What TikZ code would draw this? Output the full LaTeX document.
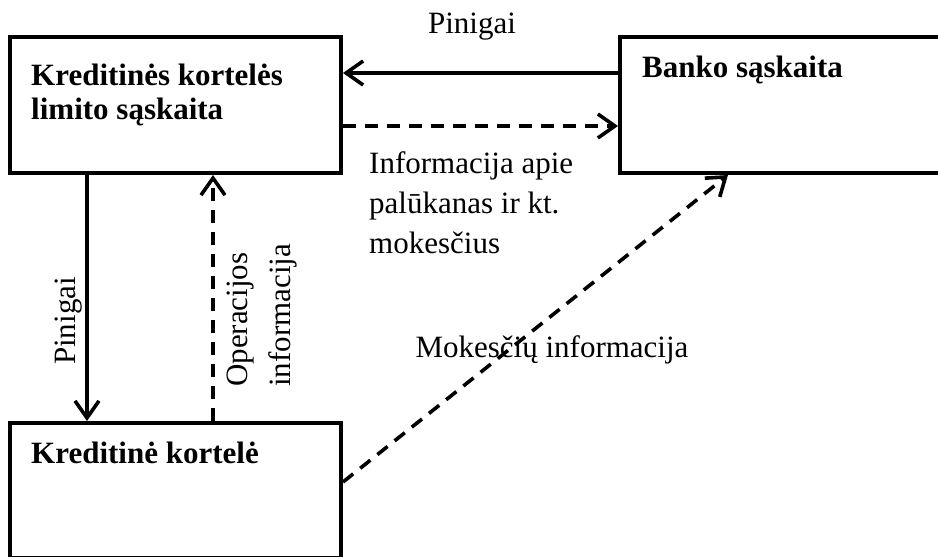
\documentclass[tikz,border=0pt]{standalone}
\usepackage{fontspec}
\setmainfont{Liberation Serif}
\usetikzlibrary{arrows.meta}
\begin{document}
\begin{tikzpicture}[x=1pt,y=-1pt,
  box/.style={draw, line width=4pt, inner sep=0pt},
  lbl/.style={font=\fontsize{31}{36}\selectfont, inner sep=0pt},
  bold/.style={font=\fontsize{31}{36}\selectfont\bfseries, inner sep=0pt},
  arr/.style={line width=3.6pt, -{Straight Barb[length=17pt, width=24pt, line width=3.6pt]}},
  dashline/.style={dash pattern=on 13pt off 9pt}]
\useasboundingbox (0,0) rectangle (938,557);
\clip (0,0) rectangle (938,557);

% boxes
\node[box, minimum width=331pt, minimum height=136pt] (tl) at (175.5,105) {};
\node[box, minimum width=360pt, minimum height=136pt] (tr) at (800,105) {};
\node[box, minimum width=331pt, minimum height=135pt] (bl) at (175.5,490.5) {};

% box titles
\node[bold, anchor=base west] (t1) at (31,85) {Kreditinės kortelės};
\node[bold, anchor=base west] (t2) at (31,119) {limito sąskaita};
\node[bold, anchor=base west] (t3) at (642,77) {Banko sąskaita};
\node[bold, anchor=base west] (t4) at (31,463) {Kreditinė kortelė};

% connectors
\draw[arr] (tr.west |- 0,73) -- (tl.east |- 0,73);
\draw[arr, dashline] (tl.east |- 0,126) -- (tr.west |- 0,126);
\draw[arr] (tl.south -| 87,0) -- (bl.north -| 87,0);
\draw[arr, dashline] (bl.north -| 213,0) -- (tl.south -| 213,0);
\draw[arr, dashline] (bl.east |- 0,482) -- (tr.south -| 728,0);

% connector labels
\node[lbl, anchor=base] (p1) at (472,33) {Pinigai};
\node[lbl, anchor=base west] (i1) at (369,173) {Informacija apie};
\node[lbl, anchor=base west] (i2) at (369,213) {palūkanas ir kt.};
\node[lbl, anchor=base west] (i3) at (369,253) {mokesčius};
\node[lbl, anchor=base] (m) at (552,357) {Mokesčių informacija};
\node[lbl, rotate=90, anchor=base] (p2) at (75,321) {Pinigai};
\node[lbl, rotate=90, anchor=base west] (o1) at (247,387) {Operacijos};
\node[lbl, rotate=90, anchor=base west] (o2) at (290,387) {informacija};
\end{tikzpicture}
\end{document}
